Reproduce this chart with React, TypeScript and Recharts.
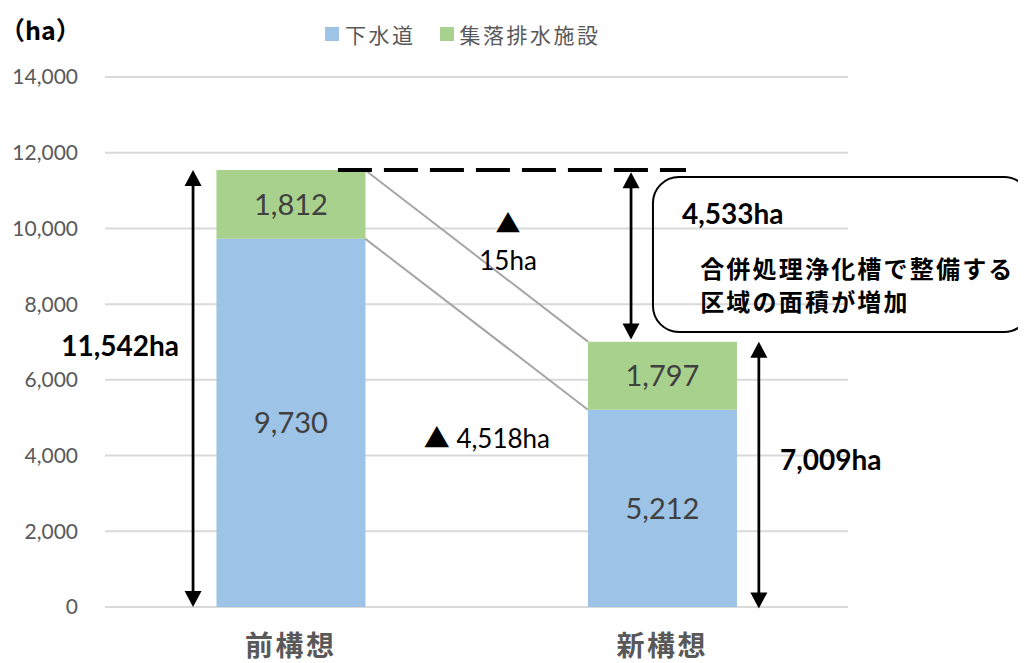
import React from 'react';
import {
  BarChart,
  Bar,
  XAxis,
  YAxis,
  CartesianGrid,
  Legend,
  LabelList,
  ReferenceLine,
  ReferenceArea,
  ReferenceDot,
} from 'recharts';

// ---------- data ----------
const categories = ['前構想', '新構想'];
const seriesNames = ['下水道', '集落排水施設'];
const sewerValues = [9730, 5212];
const ruralValues = [1812, 1797];
const yTicks = [0, 2000, 4000, 6000, 8000, 10000, 12000, 14000];
const boxLines = ['合併処理浄化槽で整備する', '区域の面積が増加'];
const unitLabel = '（ha）';

const seriesColors = ['#9DC3E6', '#A9D18E'];

const totals = categories.map((_, i) => sewerValues[i] + ruralValues[i]);
const diffTotal = totals[0] - totals[1];
const diffSewer = sewerValues[0] - sewerValues[1];
const diffRural = ruralValues[0] - ruralValues[1];

const data = categories.map((c, i) => ({ name: c, pos: i + 0.5, sewer: sewerValues[i], rural: ruralValues[i] }));

const fmt = (v: number) => v.toLocaleString('en-US');

// ---------- style ----------
const NUM_FONT = "Lato, 'Noto Sans CJK JP', sans-serif";
const JP_FONT = "'Noto Sans CJK JP', Lato, sans-serif";
const GAP = 0.3; // barCategoryGap fraction
const barLeft = (i: number) => i + GAP;
const barRight = (i: number) => i + 1 - GAP;

// ---------- shapes ----------
const DoubleArrow = (p: any) => {
  const { x1, y1, x2, y2 } = p;
  const dx = x2 - x1;
  const dy = y2 - y1;
  const len = Math.hypot(dx, dy) || 1;
  const ux = dx / len;
  const uy = dy / len;
  const hl = 16;
  const hw = 8.5;
  const head = (tx: number, ty: number, ex: number, ey: number) =>
    `${tx},${ty} ${tx - ex * hl - ey * hw},${ty - ey * hl + ex * hw} ${tx - ex * hl + ey * hw},${ty - ey * hl - ex * hw}`;
  return (
    <g>
      <line
        x1={x1 + ux * hl * 0.7}
        y1={y1 + uy * hl * 0.7}
        x2={x2 - ux * hl * 0.7}
        y2={y2 - uy * hl * 0.7}
        stroke="#000"
        strokeWidth={2.75}
      />
      <polygon points={head(x2, y2, ux, uy)} fill="#000" />
      <polygon points={head(x1, y1, -ux, -uy)} fill="#000" />
    </g>
  );
};

const textShape =
  (text: string, o: { size: number; bold?: boolean; anchor?: string; font?: string; spacing?: number; color?: string }) =>
  (p: any) =>
    (
      <text
        x={p.cx}
        y={p.cy}
        textAnchor={o.anchor || 'start'}
        dominantBaseline="central"
        fontSize={o.size}
        fontWeight={o.bold ? 700 : 400}
        fontFamily={o.font || NUM_FONT}
        letterSpacing={o.spacing || 0}
        fill={o.color || '#000'}
      >
        {text}
      </text>
    );

const RoundBox = (p: any) => (
  <rect x={p.x} y={p.y} width={p.width} height={p.height} rx={26} ry={26} fill="none" stroke="#000" strokeWidth={2} />
);

const XTick = (p: any) => (
  <text
    x={p.x}
    y={p.y + 37}
    textAnchor="middle"
    dominantBaseline="central"
    fontSize={28}
    fontWeight={700}
    letterSpacing={2.5}
    fill="#595959"
    fontFamily={JP_FONT}
  >
    {p.payload.value}
  </text>
);

const LegendContent = () => (
  <div style={{ display: 'flex', alignItems: 'center', fontFamily: JP_FONT, fontSize: 21, color: '#595959', letterSpacing: 2.5, whiteSpace: 'nowrap' }}>
    {seriesNames.map((n, i) => (
      <div key={n} style={{ display: 'flex', alignItems: 'center', marginRight: 24 }}>
        <span style={{ display: 'inline-block', width: 14, height: 14, background: seriesColors[i], marginRight: 6 }} />
        <span>{n}</span>
      </div>
    ))}
  </div>
);

export default function App() {
  return (
    <div style={{ width: 1026, height: 663, margin: '-8px 0 0 -8px' }}>
      <BarChart
        width={1026}
        height={663}
        data={data}
        margin={{ top: 77, right: 178, bottom: 6, left: 8 }}
        barCategoryGap={`${GAP * 100}%`}
      >
        <CartesianGrid vertical={false} stroke="#D9D9D9" strokeWidth={2} />
        <XAxis dataKey="name" axisLine={false} tickLine={false} tickSize={0} tickMargin={0} height={50} tick={<XTick />} interval={0} />
        <XAxis xAxisId="num" dataKey="pos" type="number" domain={[0, 2]} allowDataOverflow hide />
        <YAxis
          domain={[0, 14000]}
          ticks={yTicks}
          width={97}
          axisLine={false}
          tickLine={false}
          tickSize={0}
          tickMargin={27}
          tickFormatter={fmt}
          tick={{ fill: '#595959', fontSize: 21, fontFamily: NUM_FONT }}
          interval={0}
        />
        <Legend
          layout="horizontal"
          verticalAlign="middle"
          align="center"
          wrapperStyle={{ top: 19, left: 325, width: 'auto', height: 'auto' }}
          content={<LegendContent />}
        />
        <Bar dataKey="sewer" name={seriesNames[0]} stackId="a" fill={seriesColors[0]} isAnimationActive={false}>
          <LabelList dataKey="sewer" position="center" formatter={(v: any) => fmt(Number(v))} fill="#404040" fontSize={29} fontFamily={NUM_FONT} />
        </Bar>
        <Bar dataKey="rural" name={seriesNames[1]} stackId="a" fill={seriesColors[1]} isAnimationActive={false}>
          <LabelList dataKey="rural" position="center" formatter={(v: any) => fmt(Number(v))} fill="#404040" fontSize={29} fontFamily={NUM_FONT} />
        </Bar>

        {/* connector lines between bars */}
        <ReferenceLine
          xAxisId="num"
          segment={[{ x: barRight(0), y: totals[0] }, { x: barLeft(1), y: totals[1] }]}
          stroke="#A6A6A6"
          strokeWidth={2}
          ifOverflow="visible"
        />
        <ReferenceLine
          xAxisId="num"
          segment={[{ x: barRight(0), y: sewerValues[0] }, { x: barLeft(1), y: sewerValues[1] }]}
          stroke="#A6A6A6"
          strokeWidth={2}
          ifOverflow="visible"
        />
        {/* dashed level line */}
        <ReferenceLine
          xAxisId="num"
          segment={[{ x: 0.627, y: totals[0] }, { x: 1.564, y: totals[0] }]}
          stroke="#000"
          strokeWidth={4}
          strokeDasharray="34 12"
          ifOverflow="visible"
        />
        {/* arrows */}
        <ReferenceLine
          xAxisId="num"
          segment={[{ x: 0.237, y: totals[0] }, { x: 0.237, y: 0 }]}
          shape={DoubleArrow}
          ifOverflow="visible"
        />
        <ReferenceLine
          xAxisId="num"
          segment={[{ x: 1.416, y: totals[0] - 55 }, { x: 1.416, y: totals[1] + 55 }]}
          shape={DoubleArrow}
          ifOverflow="visible"
        />
        <ReferenceLine
          xAxisId="num"
          segment={[{ x: 1.76, y: totals[1] }, { x: 1.76, y: -40 }]}
          shape={DoubleArrow}
          ifOverflow="visible"
        />
        {/* callout box */}
        <ReferenceArea xAxisId="num" x1={1.475} x2={2.49} y1={7264} y2={11358} shape={RoundBox} ifOverflow="visible" />

        {/* texts */}
        <ReferenceDot xAxisId="num" x={-0.283} y={15268} ifOverflow="visible" shape={textShape(unitLabel, { size: 25, bold: true, font: JP_FONT })} />
        <ReferenceDot xAxisId="num" x={0.199} y={6920} ifOverflow="visible" shape={textShape(`${fmt(totals[0])}ha`, { size: 28, bold: true, anchor: 'end' })} />
        <ReferenceDot xAxisId="num" x={1.817} y={3909} ifOverflow="visible" shape={textShape(`${fmt(totals[1])}ha`, { size: 28, bold: true })} />
        <ReferenceDot xAxisId="num" x={1.553} y={10408} ifOverflow="visible" shape={textShape(`${fmt(diffTotal)}ha`, { size: 28, bold: true })} />
        <ReferenceDot xAxisId="num" x={1.602} y={8955} ifOverflow="visible" shape={textShape(boxLines[0], { size: 24, bold: true, font: JP_FONT, spacing: 2.2 })} />
        <ReferenceDot xAxisId="num" x={1.602} y={8109} ifOverflow="visible" shape={textShape(boxLines[1], { size: 24, bold: true, font: JP_FONT, spacing: 2.2 })} />
        <ReferenceDot xAxisId="num" x={1.085} y={10170} ifOverflow="visible" shape={textShape('▲', { size: 25, anchor: 'middle', font: JP_FONT })} />
        <ReferenceDot xAxisId="num" x={1.085} y={9166} ifOverflow="visible" shape={textShape(`${fmt(diffRural)}ha`, { size: 26, anchor: 'middle' })} />
        <ReferenceDot xAxisId="num" x={1.028} y={4464} ifOverflow="visible" shape={textShape(`▲ ${fmt(diffSewer)}ha`, { size: 26, anchor: 'middle' })} />
      </BarChart>
    </div>
  );
}
